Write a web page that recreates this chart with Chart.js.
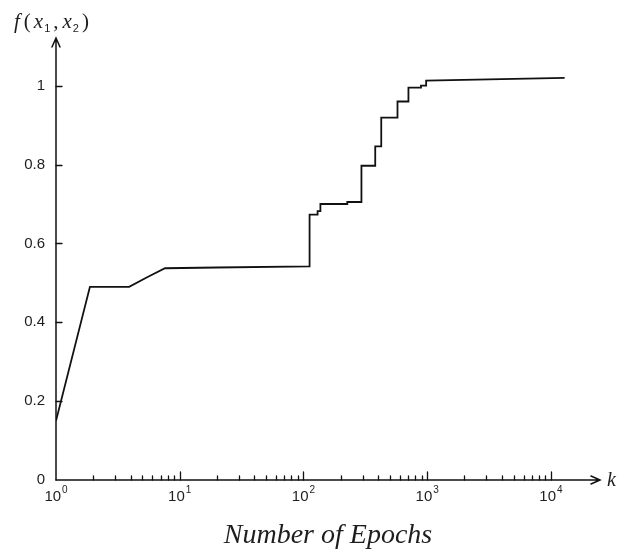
<!DOCTYPE html>
<html>
<head>
<meta charset="utf-8">
<title>Fitness vs epochs</title>
<script src="https://cdn.jsdelivr.net/npm/chart.js@4/dist/chart.umd.min.js"></script>
<style>
  html, body { margin: 0; padding: 0; background: #fff; }
  #wrap { width: 618px; height: 555px; }
</style>
</head>
<body>
<div id="wrap"><canvas id="c" width="618" height="555"></canvas></div>
<script>
// Best objective value f(x1, x2) against training epoch k (vertices of the trace)
const epochs  = [1, 1.88, 3.9, 5.5, 7.6, 20, 112, 112, 130, 130, 137, 137, 226, 226,
                 294, 294, 380, 380, 425, 425, 575, 575, 705, 705, 890, 890, 980, 980, 12900];
const fitness = [0.15, 0.49, 0.49, 0.515, 0.537, 0.539, 0.542, 0.673, 0.673, 0.682, 0.682, 0.70, 0.70, 0.705,
                 0.705, 0.797, 0.797, 0.846, 0.846, 0.919, 0.919, 0.96, 0.96, 0.995, 0.995, 1.0, 1.0, 1.013, 1.02];

// Axis ticks: decades labelled as base 10 with a raised exponent
const decadeTicks     = [1, 10, 100, 1000, 10000];
const decadeExponents = ['0', '1', '2', '3', '4'];
const yTicks          = [0, 0.2, 0.4, 0.6, 0.8, 1];
const yTickLabels     = ['0', '0.2', '0.4', '0.6', '0.8', '1'];

const INK = '#111';
const TEXT = '#1e1e1e';

// decade marks plus the 2..9 marks in between
const xTickValues = [];
decadeTicks.forEach((d, i) => {
  xTickValues.push(d);
  if (i < decadeTicks.length - 1) for (let m = 2; m <= 9; m++) xTickValues.push(d * m);
});

// Hand-drawn style axes: arrow-headed lines, inward ticks, power-of-ten labels, axis names
const axesPlugin = {
  id: 'arrowAxes',
  afterDraw(chart) {
    const { ctx, chartArea: a, scales: { x, y } } = chart;
    const x0 = a.left, y0 = a.bottom;
    ctx.save();
    ctx.strokeStyle = INK;
    ctx.lineWidth = 1.5;
    ctx.lineCap = 'round';

    // y axis with arrow
    ctx.beginPath();
    ctx.moveTo(x0, y0);
    ctx.lineTo(x0, a.top);
    ctx.moveTo(x0 - 4, a.top + 9);
    ctx.lineTo(x0, a.top);
    ctx.lineTo(x0 + 4, a.top + 9);
    ctx.stroke();

    // x axis with arrow
    ctx.beginPath();
    ctx.moveTo(x0, y0);
    ctx.lineTo(a.right, y0);
    ctx.moveTo(a.right - 9, y0 - 4);
    ctx.lineTo(a.right, y0);
    ctx.lineTo(a.right - 9, y0 + 4);
    ctx.stroke();

    // y ticks, pointing inward
    ctx.lineWidth = 1.3;
    ctx.beginPath();
    yTicks.forEach(v => {
      if (v === 0) return;
      const py = Math.round(y.getPixelForValue(v)) + 0.5;
      ctx.moveTo(x0, py);
      ctx.lineTo(x0 + 6, py);
    });
    // x ticks, pointing up
    xTickValues.forEach(v => {
      if (v === 1) return;
      const px = Math.round(x.getPixelForValue(v)) + 0.5;
      const len = decadeTicks.includes(v) ? 8 : 4;
      ctx.moveTo(px, y0);
      ctx.lineTo(px, y0 - len);
    });
    ctx.stroke();

    // decade labels 10^n
    ctx.fillStyle = TEXT;
    ctx.textBaseline = 'alphabetic';
    decadeTicks.forEach((d, i) => {
      const px = x.getPixelForValue(d);
      ctx.font = '15px "Liberation Sans"';
      const wb = ctx.measureText('10').width;
      ctx.font = '10px "Liberation Sans"';
      const we = ctx.measureText(decadeExponents[i]).width;
      const left = px - (wb + we + 1) / 2;
      ctx.font = '15px "Liberation Sans"';
      ctx.fillText('10', left, y0 + 21);
      ctx.font = '10px "Liberation Sans"';
      ctx.fillText(decadeExponents[i], left + wb + 1, y0 + 13);
    });

    // axis names
    const ital = 'italic 21px "Liberation Serif"';
    const upr = '21px "Liberation Serif"';
    const sub = '11px "Liberation Sans"';
    let cx = 14;
    const base = 28;
    const put = (t, font, dy) => {
      ctx.font = font;
      ctx.fillText(t, cx, base + (dy || 0));
      cx += ctx.measureText(t).width;
    };
    put('f', ital); cx += 4;
    put('(', upr); cx += 3;
    put('x', ital); cx += 1;
    put('1', sub, 4); cx += 3;
    put(',', upr); cx += 4;
    put('x', ital); cx += 1;
    put('2', sub, 4); cx += 3;
    put(')', upr);

    ctx.font = 'italic 20px "Liberation Serif"';
    ctx.fillText('k', a.right + 7, y0 + 6);
    ctx.restore();
  }
};

new Chart(document.getElementById('c'), {
  type: 'line',
  data: {
    datasets: [{
      data: epochs.map((e, i) => ({ x: e, y: fitness[i] })),
      borderColor: INK,
      borderWidth: 1.8,
      pointRadius: 0,
      tension: 0,
      fill: false
    }]
  },
  options: {
    responsive: false,
    animation: false,
    events: [],
    layout: { padding: { top: 38, right: 18, left: 0, bottom: 0 } },
    plugins: { legend: { display: false }, tooltip: { enabled: false } },
    scales: {
      x: {
        type: 'logarithmic',
        position: 'bottom',
        min: 1,
        max: 24900,
        grid: { display: false, drawTicks: false },
        border: { display: false },
        afterBuildTicks: s => { s.ticks = xTickValues.map(v => ({ value: v })); },
        afterFit: s => { s.height = 75; },
        ticks: {
          autoSkip: false,
          maxRotation: 0,
          padding: 6,
          font: { family: 'Liberation Sans', size: 15 },
          callback: () => ''
        },
        title: {
          display: true,
          text: 'Number of Epochs',
          color: TEXT,
          font: { family: 'Liberation Serif', style: 'italic', size: 28 },
          padding: { top: 0, bottom: 3 }
        }
      },
      y: {
        type: 'linear',
        min: 0,
        max: 1.121,
        grid: { display: false, drawTicks: false },
        border: { display: false },
        afterBuildTicks: s => { s.ticks = yTicks.map(v => ({ value: v })); },
        afterFit: s => { s.width = 56; },
        ticks: {
          padding: 11,
          color: TEXT,
          font: { family: 'Liberation Sans', size: 15 },
          callback: v => {
            const i = yTicks.indexOf(v);
            return i >= 0 ? yTickLabels[i] : '';
          }
        }
      }
    }
  },
  plugins: [axesPlugin]
});
</script>
</body>
</html>
